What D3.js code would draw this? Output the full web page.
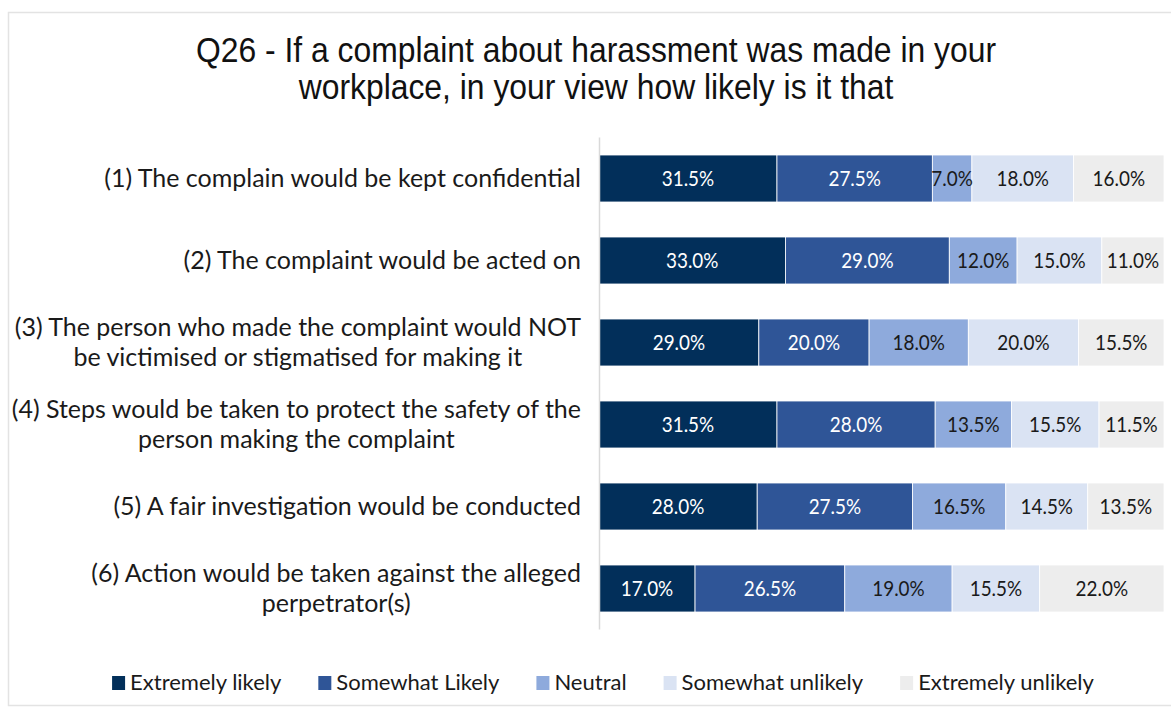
<!DOCTYPE html>
<html>
<head>
<meta charset="utf-8">
<script src="https://cdn.jsdelivr.net/npm/d3@7"></script>
<style>
  html, body { margin: 0; padding: 0; background: #fff; }
  svg { display: block; }
</style>
</head>
<body>
<svg id="chart" width="1171" height="707"></svg>
<script>
// Survey items (rows, top to bottom)
const questions = [
  ["(1) The complain would be kept confidential"],
  ["(2) The complaint would be acted on"],
  ["(3) The person who made the complaint would NOT", "be victimised or stigmatised for making it"],
  ["(4) Steps would be taken to protect the safety of the", "person making the complaint"],
  ["(5) A fair investigation would be conducted"],
  ["(6) Action would be taken against the alleged", "perpetrator(s)"]
];

// Response categories (stack order, left to right)
const responses = ["Extremely likely", "Somewhat Likely", "Neutral", "Somewhat unlikely", "Extremely unlikely"];

// Percentages per response, one value per question
const extremelyLikely   = [31.5, 33.0, 29.0, 31.5, 28.0, 17.0];
const somewhatLikely    = [27.5, 29.0, 20.0, 28.0, 27.5, 26.5];
const neutral           = [7.0, 12.0, 18.0, 13.5, 16.5, 19.0];
const somewhatUnlikely  = [18.0, 15.0, 20.0, 15.5, 14.5, 15.5];
const extremelyUnlikely = [16.0, 11.0, 15.5, 11.5, 13.5, 22.0];

const colors = ["#022f5a", "#2f5597", "#8eaadc", "#dae3f3", "#ededed"];
const labelColors = ["#ffffff", "#ffffff", "#1a1a1a", "#1a1a1a", "#1a1a1a"];

const titleLines = [
  "Q26 - If a complaint about harassment was made in your",
  "workplace, in your view how likely is it that"
];

// Build table for the stack layout
const seriesValues = [extremelyLikely, somewhatLikely, neutral, somewhatUnlikely, extremelyUnlikely];
const rows = questions.map((q, i) => {
  const r = { id: i };
  responses.forEach((name, k) => { r[name] = seriesValues[k][i]; });
  return r;
});

const svg = d3.select("#chart");
const W = 1171;
const FONT = "Lato, 'Noto Sans', sans-serif";
const SX = 0.9; // horizontal squeeze for value labels

// Chart frame
svg.append("rect")
  .attr("x", 8.5).attr("y", 12.5)
  .attr("width", W + 10).attr("height", 693)
  .attr("fill", "#fff")
  .attr("stroke", "#e3e3e3")
  .attr("stroke-width", 1.5);

// Title (slightly condensed)
svg.append("g").selectAll("text")
  .data(titleLines)
  .join("text")
  .attr("transform", (d, i) => `translate(596,${62 + i * 37}) scale(0.91,1)`)
  .attr("text-anchor", "middle")
  .attr("font-family", "'Liberation Sans', Arial, sans-serif")
  .attr("font-size", 35)
  .attr("fill", "#111")
  .text(d => d);

// Scales
const x = d3.scaleLinear().domain([0, 1]).range([599, 1164]);
const y = d3.scaleBand().domain(rows.map(r => r.id)).range([137.5, 629.5]).paddingInner(0.427).paddingOuter(0.2135);

const stack = d3.stack().keys(responses).offset(d3.stackOffsetExpand);
const stacked = stack(rows);

// Bars
const layers = svg.append("g").selectAll("g")
  .data(stacked)
  .join("g")
  .attr("fill", (d, i) => colors[i]);

layers.selectAll("rect")
  .data(d => d)
  .join("rect")
  .attr("x", d => x(d[0]))
  .attr("y", d => y(d.data.id))
  .attr("width", d => x(d[1]) - x(d[0]))
  .attr("height", y.bandwidth())
  .attr("stroke", "#ffffff")
  .attr("stroke-width", 0.8);

// Value labels
const fmt = v => v.toFixed(1) + "%";
svg.append("g").selectAll("g")
  .data(stacked)
  .join("g")
  .each(function (layer, k) {
    d3.select(this).selectAll("text")
      .data(layer)
      .join("text")
      .attr("transform", d => `translate(${(x(d[0]) + x(d[1])) / 2},${y(d.data.id) + y.bandwidth() / 2 + 7.5}) scale(${SX},1)`)
      .attr("text-anchor", "middle")
      .attr("font-family", FONT)
      .attr("font-size", 21)
      .attr("fill", labelColors[k])
      .text(d => fmt(d.data[layer.key]));
  });

// Category axis line
svg.append("line")
  .attr("x1", x(0) + 0.5).attr("x2", x(0) + 0.5)
  .attr("y1", y.range()[0]).attr("y2", y.range()[1])
  .attr("stroke", "#d9d9d9")
  .attr("stroke-width", 1.5);

// Category labels: lines centred on each other, block right-aligned by the axis
const catG = svg.append("g").selectAll("g")
  .data(rows)
  .join("g")
  .attr("transform", d => `translate(0,${y(d.id) + y.bandwidth() / 2})`);

catG.each(function (d) {
  const lines = questions[d.id];
  const lh = 30;
  const texts = d3.select(this).selectAll("text")
    .data(lines)
    .join("text")
    .attr("y", (s, i) => (i - (lines.length - 1) / 2) * lh + 8.5)
    .attr("text-anchor", "middle")
    .attr("font-family", FONT)
    .attr("font-size", 25)
    .attr("fill", "#1a1a1a")
    .text(s => s);
  const maxW = d3.max(texts.nodes(), n => n.getComputedTextLength());
  texts.attr("x", 581 - maxW / 2);
});

// Legend
const legend = svg.append("g");
const items = legend.selectAll("g")
  .data(responses)
  .join("g");
items.append("rect")
  .attr("width", 13).attr("height", 14)
  .attr("y", -14)
  .attr("fill", (d, i) => colors[i]);
items.append("text")
  .attr("x", 18)
  .attr("font-family", FONT)
  .attr("font-size", 22)
  .attr("fill", "#1a1a1a")
  .text(d => d);

const gap = 37;
let cx = 0;
items.each(function () {
  const g = d3.select(this);
  const w = 18 + g.select("text").node().getComputedTextLength();
  g.attr("transform", `translate(${cx},0)`);
  cx += w + gap;
});
const totalW = cx - gap;
legend.attr("transform", `translate(${603 - totalW / 2},690)`);
</script>
</body>
</html>
